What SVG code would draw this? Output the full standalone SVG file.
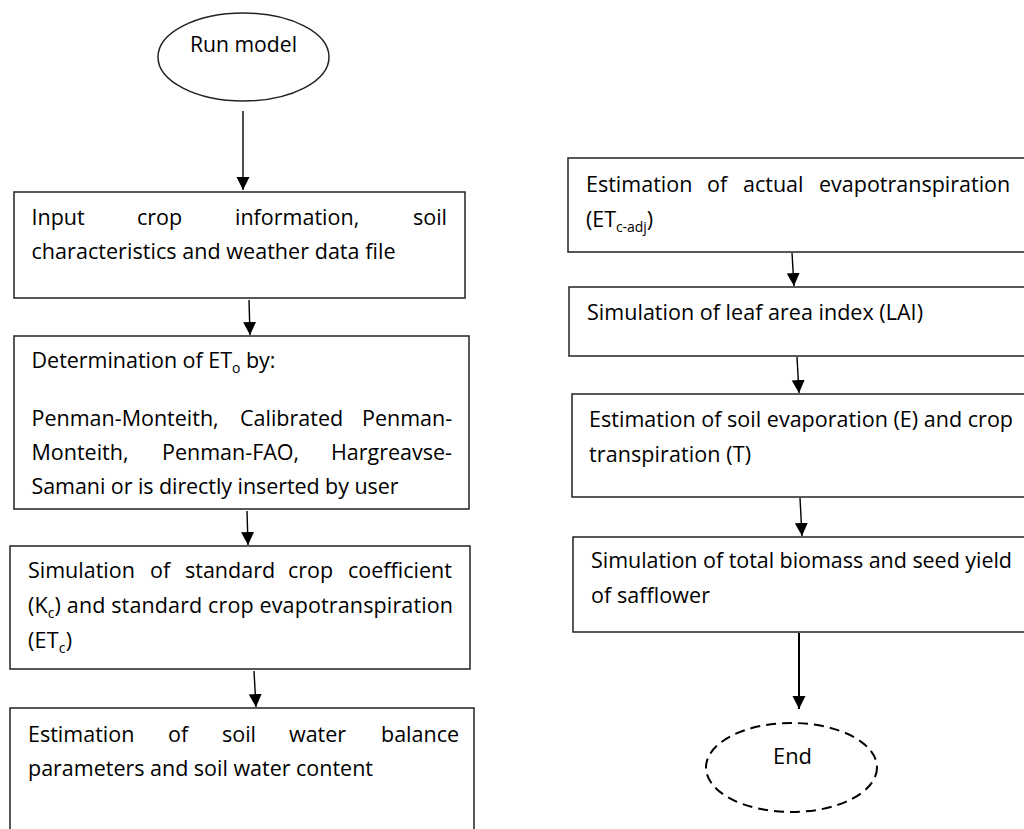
<svg xmlns="http://www.w3.org/2000/svg" width="1024" height="829" viewBox="0 0 1024 829">
<style>
  .box { fill: #fff; stroke: #222; stroke-width: 1.5; }
  .t { font-family: "Open Sans", "Liberation Sans", sans-serif; font-size: 21.5px; fill: #000; }
  .sub { font-size: 14px; }
  .conn { stroke: #000; stroke-width: 1.4; fill: none; marker-end: url(#ah); }
</style>
<defs>
  <marker id="ah" markerUnits="userSpaceOnUse" markerWidth="14" markerHeight="14" refX="13" refY="6.5" orient="auto">
    <path d="M0,0 L13,6.5 L0,13 z" fill="#000"/>
  </marker>
</defs>
<rect width="1024" height="829" fill="#fff"/>

<g id="connectors">
  <line class="conn" x1="243" y1="111" x2="243" y2="190"/>
  <line class="conn" x1="249" y1="300" x2="250" y2="335"/>
  <line class="conn" x1="247" y1="511" x2="248" y2="545"/>
  <line class="conn" x1="254" y1="671" x2="256" y2="707"/>
  <line class="conn" x1="792" y1="253" x2="794" y2="286"/>
  <line class="conn" x1="797" y1="357" x2="799" y2="393"/>
  <line class="conn" x1="800" y1="498" x2="802" y2="536"/>
  <line class="conn" style="stroke-width:2" x1="799" y1="633" x2="799" y2="709"/>
</g>

<g id="start">
  <ellipse cx="243.5" cy="57" rx="85.5" ry="44" class="box"/>
  <text class="t" x="190" y="52" textLength="107" lengthAdjust="spacingAndGlyphs">Run model</text>
</g>

<g id="input">
  <rect x="14" y="192" width="451" height="106" class="box"/>
  <text class="t" y="225"><tspan x="31.5">Input</tspan><tspan x="137">crop</tspan><tspan x="235">information,</tspan><tspan x="413">soil</tspan></text>
  <text class="t" x="31.5" y="259" textLength="364" lengthAdjust="spacing">characteristics and weather data file</text>
</g>

<g id="eto">
  <rect x="14" y="336" width="455" height="173" class="box"/>
  <text class="t" x="31.5" y="368" textLength="244" lengthAdjust="spacing">Determination of ET<tspan class="sub" dy="5">o</tspan><tspan dy="-5"> by:</tspan></text>
  <text class="t" y="426"><tspan x="31.5">Penman-Monteith,</tspan><tspan x="240">Calibrated</tspan><tspan x="362">Penman-</tspan></text>
  <text class="t" y="460"><tspan x="31.5">Monteith,</tspan><tspan x="162">Penman-FAO,</tspan><tspan x="331">Hargreavse-</tspan></text>
  <text class="t" x="31.5" y="494" textLength="367" lengthAdjust="spacing">Samani or is directly inserted by user</text>
</g>

<g id="kc">
  <rect x="10" y="546" width="460" height="123" class="box"/>
  <text class="t" y="578"><tspan x="28">Simulation</tspan><tspan x="150">of</tspan><tspan x="185">standard</tspan><tspan x="288">crop</tspan><tspan x="348">coefficient</tspan></text>
  <text class="t" x="28" y="613" textLength="425" lengthAdjust="spacing">(K<tspan class="sub" dy="5">c</tspan><tspan dy="-5">) and standard crop evapotranspiration</tspan></text>
  <text class="t" x="28" y="648" textLength="44" lengthAdjust="spacing">(ET<tspan class="sub" dy="5">c</tspan><tspan dy="-5">)</tspan></text>
</g>

<g id="soilwater">
  <rect x="10" y="708" width="464" height="140" class="box"/>
  <text class="t" y="742"><tspan x="28">Estimation</tspan><tspan x="168">of</tspan><tspan x="222">soil</tspan><tspan x="289">water</tspan><tspan x="381">balance</tspan></text>
  <text class="t" x="28" y="776" textLength="345" lengthAdjust="spacing">parameters and soil water content</text>
</g>

<g id="actualet">
  <rect x="568" y="158" width="470" height="94" class="box"/>
  <text class="t" y="192"><tspan x="586">Estimation</tspan><tspan x="707">of</tspan><tspan x="743">actual</tspan><tspan x="819">evapotranspiration</tspan></text>
  <text class="t" x="586" y="227" textLength="67" lengthAdjust="spacing">(ET<tspan class="sub" dy="5">c-adj</tspan><tspan dy="-5">)</tspan></text>
</g>

<g id="lai">
  <rect x="569" y="287" width="470" height="69" class="box"/>
  <text class="t" x="587" y="320" textLength="336" lengthAdjust="spacing">Simulation of leaf area index (LAI)</text>
</g>

<g id="evap">
  <rect x="572" y="394" width="470" height="103" class="box"/>
  <text class="t" x="589" y="427" textLength="424" lengthAdjust="spacing">Estimation of soil evaporation (E) and crop</text>
  <text class="t" x="589" y="462" textLength="162" lengthAdjust="spacing">transpiration (T)</text>
</g>

<g id="biomass">
  <rect x="573" y="537" width="470" height="95" class="box"/>
  <text class="t" x="591" y="568" textLength="421" lengthAdjust="spacing">Simulation of total biomass and seed yield</text>
  <text class="t" x="591" y="603" textLength="119" lengthAdjust="spacing">of safflower</text>
</g>

<g id="end">
  <ellipse cx="791.5" cy="767.5" rx="85.5" ry="44.5" fill="#fff" stroke="#000" stroke-width="2" stroke-dasharray="10,6"/>
  <text class="t" x="773" y="764" textLength="39" lengthAdjust="spacingAndGlyphs">End</text>
</g>
</svg>
